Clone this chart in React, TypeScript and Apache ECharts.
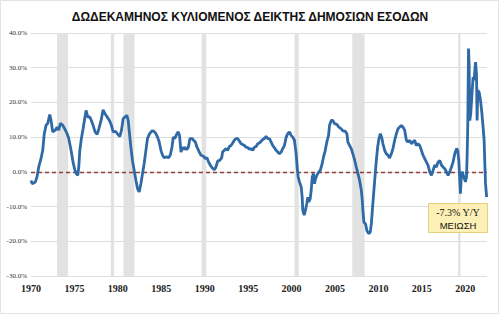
import React, { useEffect, useRef } from "react";
import * as echarts from "echarts";

const TITLE = "ΔΩΔΕΚΑΜΗΝΟΣ ΚΥΛΙΟΜΕΝΟΣ ΔΕΙΚΤΗΣ ΔΗΜΟΣΙΩΝ ΕΣΟΔΩΝ";
const xTicks = [1970, 1975, 1980, 1985, 1990, 1995, 2000, 2005, 2010, 2015, 2020];
const yTicks = [-30, -20, -10, 0, 10, 20, 30, 40];

// decimal year of each observation
const years = [
  1970.0, 1970.15, 1970.5, 1970.69, 1970.89, 1971.15, 1971.35, 1971.53, 1971.73, 1971.93,
  1972.16, 1972.31, 1972.5, 1972.8, 1973.0, 1973.19, 1973.38, 1973.66, 1973.96, 1974.15,
  1974.35, 1974.61, 1974.84, 1975.04, 1975.22, 1975.39, 1975.5, 1975.62, 1975.8, 1976.0,
  1976.15, 1976.34, 1976.54, 1976.77, 1976.95, 1977.15, 1977.38, 1977.61, 1977.81, 1978.07,
  1978.3, 1978.5, 1978.77, 1979.03, 1979.26, 1979.46, 1979.72, 1980.0, 1980.23, 1980.42,
  1980.61, 1980.81, 1981.04, 1981.19, 1981.3, 1981.5, 1981.68, 1981.88, 1982.08, 1982.26,
  1982.46, 1982.65, 1982.84, 1983.03, 1983.23, 1983.41, 1983.61, 1983.88, 1984.11, 1984.38,
  1984.57, 1984.76, 1984.96, 1985.14, 1985.34, 1985.65, 1985.84, 1986.03, 1986.23, 1986.38,
  1986.57, 1986.76, 1986.96, 1987.1, 1987.27, 1987.42, 1987.57, 1987.73, 1987.91, 1988.11,
  1988.3, 1988.54, 1988.72, 1988.92, 1989.11, 1989.38, 1989.57, 1989.87, 1990.07, 1990.26,
  1990.45, 1990.65, 1990.84, 1991.11, 1991.3, 1991.49, 1991.72, 1991.95, 1992.06, 1992.26,
  1992.46, 1992.64, 1992.84, 1993.03, 1993.22, 1993.41, 1993.61, 1993.79, 1993.99, 1994.18,
  1994.37, 1994.57, 1994.76, 1994.95, 1995.14, 1995.34, 1995.52, 1995.72, 1995.92, 1996.1,
  1996.3, 1996.49, 1996.68, 1996.87, 1997.07, 1997.26, 1997.45, 1997.65, 1997.83, 1998.03,
  1998.22, 1998.41, 1998.6, 1998.8, 1998.98, 1999.18, 1999.38, 1999.56, 1999.76, 1999.95,
  2000.14, 2000.33, 2000.53, 2000.64, 2000.76, 2000.91, 2001.11, 2001.22, 2001.29, 2001.45,
  2001.6, 2001.75, 2001.87, 2001.98, 2002.15, 2002.26, 2002.38, 2002.53, 2002.64, 2002.76,
  2002.91, 2003.14, 2003.3, 2003.48, 2003.68, 2003.88, 2004.06, 2004.26, 2004.37, 2004.57,
  2004.75, 2004.95, 2005.21, 2005.44, 2005.72, 2005.91, 2006.18, 2006.37, 2006.48, 2006.68,
  2006.87, 2007.06, 2007.25, 2007.45, 2007.64, 2007.83, 2008.03, 2008.14, 2008.21, 2008.33,
  2008.52, 2008.67, 2008.87, 2009.07, 2009.18, 2009.3, 2009.45, 2009.6, 2009.76, 2009.91,
  2010.06, 2010.22, 2010.37, 2010.52, 2010.72, 2010.91, 2011.1, 2011.29, 2011.49, 2011.67,
  2011.87, 2012.07, 2012.25, 2012.45, 2012.64, 2012.83, 2013.02, 2013.22, 2013.4, 2013.6,
  2013.79, 2013.98, 2014.17, 2014.36, 2014.56, 2014.75, 2014.95, 2015.13, 2015.33, 2015.53,
  2015.71, 2015.91, 2016.1, 2016.29, 2016.48, 2016.68, 2016.86, 2017.06, 2017.26, 2017.44,
  2017.64, 2017.83, 2018.02, 2018.21, 2018.41, 2018.59, 2018.79, 2018.99, 2019.13, 2019.25,
  2019.33, 2019.44, 2019.56, 2019.67, 2019.83, 2020.02, 2020.14, 2020.21, 2020.29, 2020.37,
  2020.44, 2020.52, 2020.63, 2020.75, 2020.9, 2021.01, 2021.18, 2021.29, 2021.36, 2021.44,
  2021.59, 2021.75, 2021.9, 2022.05, 2022.17, 2022.25, 2022.33, 2022.46,
];

// 12-month rolling change of public revenue, %
const values = [
  -2.5, -3.4, -2.9, -1.5, 1.4, 3.8, 6.2, 11.0, 13.4, 14.0,
  16.5, 14.8, 11.5, 12.0, 12.9, 12.0, 14.0, 13.4, 12.0, 11.0,
  9.6, 6.2, 2.8, 0.6, -0.5, -1.0, 1.4, 6.2, 9.6, 12.4,
  14.8, 17.7, 15.8, 15.8, 14.8, 13.4, 11.5, 10.8, 12.4, 14.8,
  17.9, 16.8, 15.8, 14.8, 13.4, 11.5, 11.7, 10.8, 10.2, 12.0,
  15.3, 15.8, 16.3, 14.8, 12.0, 7.1, 3.3, 0.4, -2.4, -4.8,
  -5.8, -3.4, -0.5, 2.4, 6.2, 9.6, 10.8, 11.7, 11.8, 11.0,
  10.0, 8.6, 6.2, 4.8, 4.1, 4.3, 4.1, 4.8, 7.1, 10.0,
  9.6, 10.8, 11.5, 10.5, 5.7, 7.1, 6.4, 7.1, 6.4, 7.0,
  9.6, 9.6, 9.1, 8.6, 7.1, 5.7, 4.8, 4.5, 3.8, 4.1,
  2.8, 1.9, 1.2, 0.6, 1.4, 3.1, 3.3, 4.0, 5.7, 6.2,
  6.7, 6.2, 7.3, 7.6, 8.3, 9.1, 9.6, 9.6, 8.9, 8.1,
  7.9, 7.6, 7.1, 7.0, 6.5, 6.7, 6.2, 7.1, 7.3, 8.1,
  8.3, 8.8, 9.3, 9.6, 10.2, 9.6, 9.6, 8.6, 7.6, 6.9,
  6.2, 5.7, 5.2, 5.7, 6.7, 7.6, 10.0, 11.0, 11.5, 10.5,
  10.0, 9.1, 5.2, 1.4, -1.5, -2.9, -4.4, -7.3, -11.0, -12.5,
  -11.0, -9.2, -7.3, -8.7, -7.7, -5.3, -1.5, -0.5, -3.4, -2.0,
  -1.0, 0.0, 0.4, 1.9, 4.3, 6.2, 8.6, 10.5, 13.4, 14.8,
  14.8, 13.9, 13.7, 12.9, 12.4, 11.8, 11.7, 11.0, 8.6, 7.6,
  6.7, 5.2, 3.5, 1.4, -0.5, -2.4, -5.3, -8.2, -11.0, -14.5,
  -15.0, -16.9, -17.8, -17.3, -15.0, -11.0, -6.3, -1.5, 3.3, 7.1,
  9.6, 11.0, 10.0, 8.1, 6.2, 5.2, 4.8, 4.0, 5.2, 6.7,
  9.1, 11.0, 12.4, 12.9, 13.4, 12.9, 12.0, 9.1, 8.6, 9.1,
  8.1, 8.6, 9.1, 7.6, 8.1, 7.6, 6.2, 4.8, 3.8, 2.8,
  1.9, 0.0, -1.0, 0.4, 1.9, 1.4, 2.8, 3.3, 1.9, 1.4,
  0.9, 0.0, -1.0, 0.0, 1.4, 2.8, 5.2, 6.7, 6.2, 3.3,
  -0.5, -6.3, -0.5, 0.0, -1.5, -2.9, -1.5, 4.3, 13.9, 35.5,
  31.2, 14.8, 16.8, 21.6, 27.3, 26.4, 31.6, 28.3, 14.8, 23.5,
  23.0, 20.6, 17.2, 12.9, 9.1, 2.4, -3.4, -7.3,
];

// shaded periods (decimal years)
const shadeStart = [1973.0, 1979.19, 1980.65, 1989.64, 2000.33, 2006.99, 2019.17];
const shadeEnd = [1974.27, 1979.57, 1981.91, 1990.18, 2000.83, 2008.41, 2019.45];

const lastValue = values[values.length - 1];
const NOTE_1 = `${lastValue.toFixed(1)}% Y/Y`;
const NOTE_2 = "ΜΕΙΩΣΗ";

export default function App() {
  const ref = useRef<HTMLDivElement>(null);
  useEffect(() => {
    if (!ref.current) return;
    const chart = echarts.init(ref.current, null, { renderer: "svg" });
    const seriesData = years.map((y, i) => [y, values[i]]);
    chart.setOption({
      animation: false,
      backgroundColor: "#ffffff",
      title: {
        text: TITLE,
        left: "center",
        top: 6,
        textStyle: {
          fontFamily: "Liberation Sans, Arial, sans-serif",
          fontWeight: "bold",
          fontSize: 12,
          color: "#111",
        },
      },
      grid: { left: 31, right: 13, top: 33, bottom: 40 },
      xAxis: {
        type: "value",
        min: xTicks[0],
        max: 2022.5,
        interval: 5,
        axisLine: { show: false },
        axisTick: { show: false },
        splitLine: { show: false },
        axisLabel: {
          margin: 7,
          fontFamily: "Liberation Serif, Times New Roman, serif",
          fontSize: 10,
          fontWeight: "bold",
          color: "#222",
          showMaxLabel: false,
          formatter: (v: number) => (xTicks.includes(v) ? String(v) : ""),
        },
      },
      yAxis: {
        type: "value",
        min: yTicks[0],
        max: yTicks[yTicks.length - 1],
        interval: 10,
        axisLine: { show: false },
        axisTick: { show: false },
        splitLine: { lineStyle: { color: "#dedede", width: 1 } },
        axisLabel: {
          margin: 4,
          fontFamily: "Liberation Serif, Times New Roman, serif",
          fontSize: 7,
          color: "#333",
          formatter: (v: number) => `${v.toFixed(1)}%`,
        },
      },
      series: [
        {
          type: "line",
          data: [],
          z: 1,
          silent: true,
          markArea: {
            silent: true,
            itemStyle: { color: "#e2e2e2" },
            data: shadeStart.map((s, i) => [{ xAxis: s }, { xAxis: shadeEnd[i] }]),
          },
        },
        {
          type: "line",
          data: seriesData,
          z: 3,
          showSymbol: false,
          symbol: "none",
          lineStyle: { color: "#2f69a6", width: 2.8 },
          markLine: {
            silent: true,
            symbol: "none",
            label: { show: false },
            lineStyle: { color: "#8e3f38", type: [4, 3], width: 1.3 },
            data: [{ yAxis: 0 }],
            z: 2,
          },
        },
      ],
      graphic: [
        {
          type: "rect",
          z: 100,
          shape: { x: 0.5, y: 0.5, width: 498, height: 313 },
          style: { fill: "none", stroke: "#e4e4e4", lineWidth: 1 },
          silent: true,
        },
        {
          type: "group",
          left: 428,
          top: 203,
          z: 100,
          children: [
            {
              type: "rect",
              z: 100,
              shape: { x: 0, y: 0, width: 59, height: 29 },
              style: { fill: "#fdf0b6", stroke: "#e6d07e", lineWidth: 1 },
            },
            {
              type: "text",
              z: 101,
              x: 29.5,
              y: 8.5,
              style: {
                text: NOTE_1,
                fill: "#111",
                font: "10px 'Liberation Serif', serif",
                textAlign: "center",
                textVerticalAlign: "middle",
              },
            },
            {
              type: "text",
              z: 101,
              x: 29.5,
              y: 21.5,
              style: {
                text: NOTE_2,
                fill: "#111",
                font: "9.5px 'Liberation Sans', Arial, sans-serif",
                textAlign: "center",
                textVerticalAlign: "middle",
              },
            },
          ],
        },
      ],
    });
    return () => chart.dispose();
  }, []);
  return (
    <div
      ref={ref}
      style={{ position: "fixed", left: 0, top: 0, width: 500, height: 316 }}
    />
  );
}
